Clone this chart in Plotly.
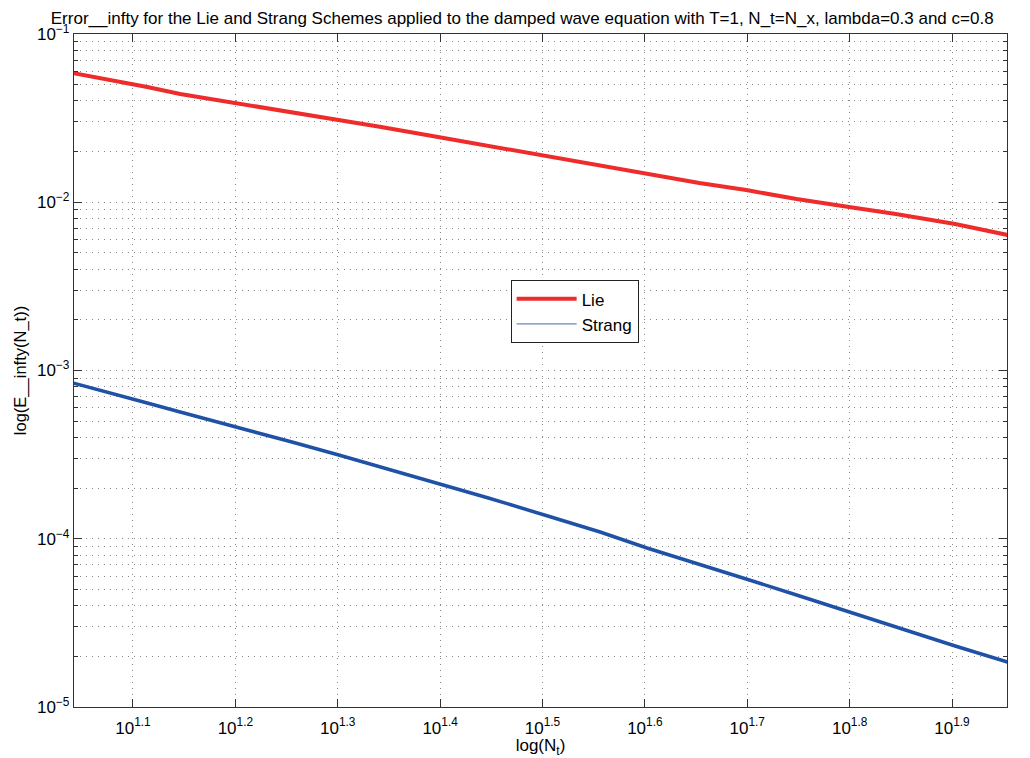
import plotly.graph_objects as go

# Data
N_t = [11, 12, 13, 14, 15, 16, 18, 20, 22, 25, 28, 32, 36, 40, 45, 50, 56, 63, 70, 80, 90]
err_lie = [0.05864, 0.05327, 0.04842, 0.04399, 0.04108, 0.03890, 0.03439, 0.03083,
           0.02801, 0.02442, 0.02160, 0.01883, 0.01665, 0.01472, 0.01301, 0.01182,
           0.01045, 0.00937, 0.00851, 0.00742, 0.00639]
err_strang = [8.425e-4, 7.349e-4, 6.408e-4, 5.666e-4, 5.079e-4, 4.551e-4, 3.758e-4,
              3.147e-4, 2.669e-4, 2.145e-4, 1.747e-4, 1.365e-4, 1.097e-4, 8.810e-5,
              7.078e-5, 5.765e-5, 4.630e-5, 3.668e-5, 2.989e-5, 2.305e-5, 1.851e-5]

x_exps = ["1.1", "1.2", "1.3", "1.4", "1.5", "1.6", "1.7", "1.8", "1.9"]
y_exps = [-5, -4, -3, -2, -1]

x_tickvals = [10 ** float(e) for e in x_exps]
x_ticktext = [f"10<sup>{e}</sup>" for e in x_exps]
y_tickvals = [10.0 ** e for e in y_exps]
y_ticktext = [f"10<sup>\u2212{abs(e)}</sup>" for e in y_exps]
y_minor = [m * 10.0 ** e for e in y_exps[:-1] for m in range(2, 10)]

RED = "#ee2c2c"
BLUE = "#1f52a6"
FONT = "Liberation Sans, Arial, sans-serif"
GRID = "#8a8a8a"
GRIDDASH = "1px,5px"

fig = go.Figure()
fig.add_trace(go.Scatter(x=N_t, y=err_lie, mode="lines", name="Lie",
                         line=dict(color=RED, width=4)))
fig.add_trace(go.Scatter(x=N_t, y=err_strang, mode="lines", name="Strang",
                         line=dict(color=BLUE, width=3.5), showlegend=False))
# legend entry (MATLAB shows a thin line for Strang in the legend)
fig.add_trace(go.Scatter(x=[None], y=[None], mode="lines", name="Strang",
                         line=dict(color="#6a86c0", width=1.2)))

axis_common = dict(
    showline=True, linecolor="#333333", linewidth=1.3, mirror="ticks",
    ticks="inside", ticklen=8, tickcolor="#333333", tickwidth=1,
    showgrid=True, gridcolor=GRID, griddash=GRIDDASH, gridwidth=1,
    zeroline=False, automargin=False,
    tickfont=dict(family=FONT, size=17, color="black"),
)

fig.update_xaxes(type="log", range=[1.0424, 1.9537],
                 tickmode="array", tickvals=x_tickvals, ticktext=x_ticktext,
                 ticklabelstandoff=5,
                 title=dict(text="log(N<sub>t</sub>)", font=dict(family=FONT, size=17, color="black"),
                            standoff=6),
                 **axis_common)
fig.update_yaxes(type="log", range=[-5, -1],
                 tickmode="array", tickvals=y_tickvals, ticktext=y_ticktext,
                 minor=dict(tickmode="array", tickvals=y_minor, ticks="inside", ticklen=4,
                            tickcolor="#333333", showgrid=True, gridcolor=GRID,
                            griddash=GRIDDASH, gridwidth=1),
                 title=dict(text="log(E__infty(N_t))", font=dict(family=FONT, size=16.5, color="black"),
                            standoff=6),
                 **axis_common)

fig.update_layout(
    width=1030, height=758,
    margin=dict(l=74, r=23, t=34, b=51),
    paper_bgcolor="white", plot_bgcolor="white",
    title=dict(text="Error__infty for the Lie and Strang Schemes applied to the damped wave equation with T=1, N_t=N_x, lambda=0.3 and c=0.8",
               x=0.507, xanchor="center", y=0.984, yanchor="top",
               font=dict(family=FONT, size=17, color="black")),
    legend=dict(x=0.468, y=0.634, xanchor="left", yanchor="top",
                bgcolor="white", bordercolor="#222222", borderwidth=1,
                font=dict(family=FONT, size=17, color="black"),
                itemwidth=60, tracegroupgap=0),
    showlegend=True,
)

fig.write_html("out.html")
